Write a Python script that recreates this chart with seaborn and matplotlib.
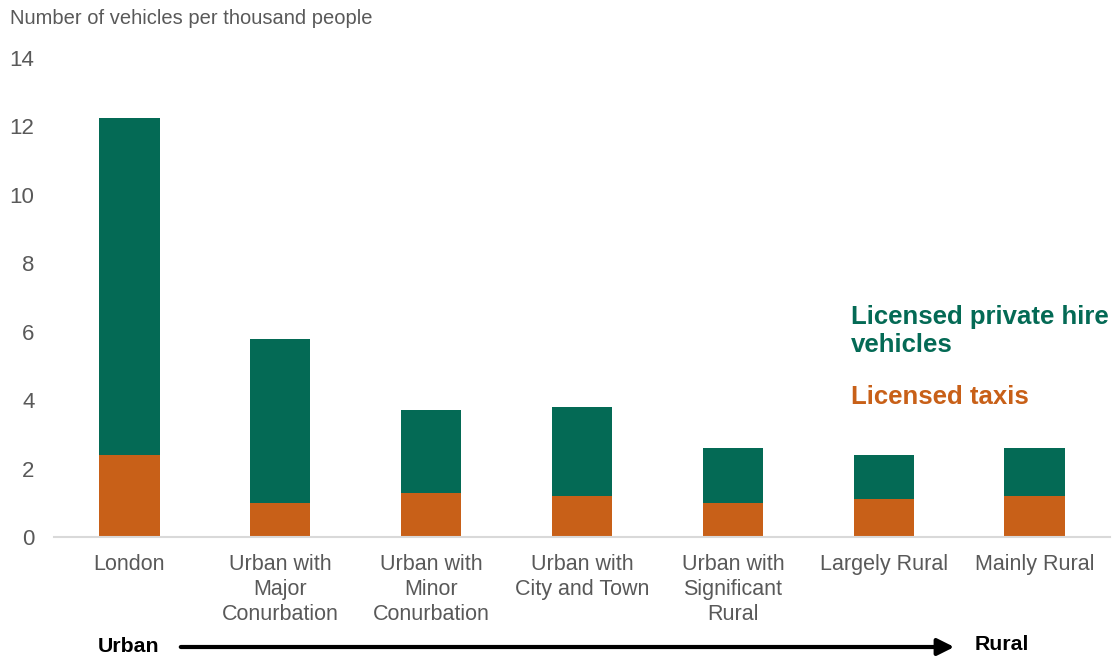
import matplotlib
matplotlib.use("Agg")
import matplotlib.pyplot as plt
import seaborn as sns
import pandas as pd
import numpy as np

# Area classifications, from most urban to most rural
categories = [
    "London",
    "Urban with\nMajor\nConurbation",
    "Urban with\nMinor\nConurbation",
    "Urban with\nCity and Town",
    "Urban with\nSignificant\nRural",
    "Largely Rural",
    "Mainly Rural",
]
# Vehicles per thousand people
licensed_taxis = [2.4, 1.0, 1.3, 1.2, 1.0, 1.1, 1.2]
private_hire = [9.85, 4.8, 2.4, 2.6, 1.6, 1.3, 1.4]
y_ticks = [0, 2, 4, 6, 8, 10, 12, 14]

GREEN = "#046A55"
ORANGE = "#C86018"
GREY_TEXT = "#595959"

sns.set_theme(style="white")
plt.rcParams["font.family"] = ["Liberation Sans", "DejaVu Sans"]

df = pd.DataFrame({
    "area": categories,
    "taxis": licensed_taxis,
    "phv": private_hire,
})
df["total"] = df["taxis"] + df["phv"]

fig = plt.figure(figsize=(11.14, 6.57), dpi=100)
ax = fig.add_axes([54 / 1114, 1 - 537 / 657, (1110 - 54) / 1114, (537 - 58) / 657])

# Stacked bars: full height in green, taxi share drawn over it in orange
sns.barplot(data=df, x="area", y="total", color=GREEN, width=0.4,
            saturation=1, ax=ax, linewidth=0)
sns.barplot(data=df, x="area", y="taxis", color=ORANGE, width=0.4,
            saturation=1, ax=ax, linewidth=0)

ax.set_xlim(-0.5, len(categories) - 0.5)
ax.set_ylim(0, 14)
ax.set_yticks(y_ticks)
ax.set_yticklabels([str(t) for t in y_ticks], fontsize=16, color=GREY_TEXT)
ax.tick_params(axis="y", length=0, pad=14)
ax.tick_params(axis="x", length=0, pad=12)
ax.set_xticks(range(len(categories)))
ax.set_xticklabels(categories, fontsize=15.5, color=GREY_TEXT, linespacing=1.27)
ax.set_xlabel("")
ax.set_ylabel("")

for side in ["top", "right", "left"]:
    ax.spines[side].set_visible(False)
ax.spines["bottom"].set_color("#D9D9D9")
ax.spines["bottom"].set_linewidth(1.5)

# Axis title above the plot
fig.text(10 / 1114, 1 - 18 / 657, "Number of vehicles per thousand people",
         fontsize=14.5, color=GREY_TEXT, ha="left", va="center")

# Series labels
fig.text(851 / 1114, 1 - 331 / 657, "Licensed private hire\nvehicles",
         fontsize=18.5, fontweight="bold", color=GREEN, ha="left", va="center",
         linespacing=1.22)
fig.text(851 / 1114, 1 - 397 / 657, "Licensed taxis",
         fontsize=18.5, fontweight="bold", color=ORANGE, ha="left", va="center")

# Urban to rural arrow along the bottom
fig.text(98 / 1114, 1 - 647 / 657, "Urban", fontsize=15.3, fontweight="bold",
         color="black", ha="left", va="center")
fig.text(975 / 1114, 1 - 645 / 657, "Rural", fontsize=15.3, fontweight="bold",
         color="black", ha="left", va="center")
fig.add_artist(matplotlib.patches.FancyArrowPatch(
    (178 / 1114, 1 - 647 / 657), (957 / 1114, 1 - 647 / 657),
    transform=fig.transFigure, arrowstyle="-|>,head_length=10,head_width=5",
    mutation_scale=1, color="black", linewidth=3))

fig.savefig("out.png", dpi=100)
